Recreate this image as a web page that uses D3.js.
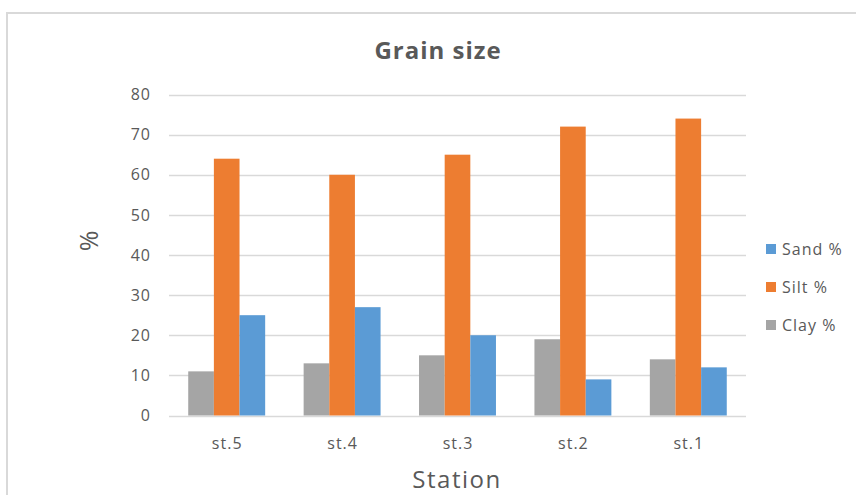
<!DOCTYPE html>
<html>
<head>
<meta charset="utf-8">
<script src="https://cdn.jsdelivr.net/npm/d3@7"></script>
<style>
  html, body { margin: 0; padding: 0; background: #fff; }
  svg { display: block; font-family: "Open Sans", "Noto Sans", sans-serif; }
</style>
</head>
<body>
<svg id="chart" width="856" height="495"></svg>
<script>
const stations = ["st.5", "st.4", "st.3", "st.2", "st.1"];
const seriesNames = ["Clay %", "Silt %", "Sand %"];
const clay = [11, 13, 15, 19, 14];
const silt = [64, 60, 65, 72, 74];
const sand = [25, 27, 20, 9, 12];
const yTicks = [0, 10, 20, 30, 40, 50, 60, 70, 80];
const legendOrder = ["Sand %", "Silt %", "Clay %"];
const colors = { "Clay %": "#A5A5A5", "Silt %": "#ED7D31", "Sand %": "#5B9BD5" };

const seriesValues = { "Clay %": clay, "Silt %": silt, "Sand %": sand };
const svg = d3.select("#chart");
const textColor = "#595959";

// Outer frame
svg.append("rect").attr("x", 7).attr("y", 13).attr("width", 900).attr("height", 600)
  .attr("fill", "none").attr("stroke", "#d9d9d9").attr("stroke-width", 2);

const plot = { left: 169, right: 746, top: 94.5, bottom: 415.5 };

const x0 = d3.scaleBand().domain(stations).range([plot.left, plot.right]).paddingInner(1/3).paddingOuter(1/6);
const x1 = d3.scaleBand().domain(seriesNames).range([0, x0.bandwidth()]);
const y = d3.scaleLinear().domain([0, 80]).range([plot.bottom, plot.top]);

// Gridlines
svg.append("g").selectAll("line").data(yTicks).join("line")
  .attr("x1", plot.left).attr("x2", plot.right)
  .attr("y1", d => Math.round(y(d)) + 0.5).attr("y2", d => Math.round(y(d)) + 0.5)
  .attr("stroke", "#d9d9d9").attr("stroke-width", 1.3);

// Y axis labels
const yAxis = d3.axisLeft(y).tickValues(yTicks).tickSize(0).tickPadding(0);
const yg = svg.append("g").attr("transform", `translate(151,0)`).call(yAxis);
yg.select(".domain").remove();
yg.selectAll("text").attr("fill", textColor).attr("font-size", 16).attr("letter-spacing", 1)
  .attr("font-family", '"Open Sans", sans-serif');

// Bars
const groups = svg.append("g").selectAll("g").data(stations).join("g")
  .attr("transform", d => `translate(${x0(d)},0)`);
groups.selectAll("rect").data((d, i) => seriesNames.map(s => ({ s, v: seriesValues[s][i] })))
  .join("rect")
  .attr("x", d => x1(d.s))
  .attr("width", x1.bandwidth())
  .attr("y", d => y(d.v))
  .attr("height", d => y(0) - y(d.v))
  .attr("fill", d => colors[d.s]);

// X axis labels
const xAxis = d3.axisBottom(x0).tickSize(0).tickPadding(0);
const xg = svg.append("g").attr("transform", `translate(0.5,${plot.bottom + 22})`).call(xAxis);
xg.select(".domain").remove();
xg.selectAll("text").attr("fill", textColor).attr("font-size", 16).attr("letter-spacing", 1)
  .attr("font-family", '"Open Sans", sans-serif');

// Title
svg.append("text").attr("x", 438).attr("y", 59).attr("text-anchor", "middle")
  .attr("font-size", 24).attr("letter-spacing", 1).attr("font-weight", "bold").attr("fill", textColor).text("Grain size");

// Axis titles
svg.append("text").attr("x", 457).attr("y", 488).attr("text-anchor", "middle")
  .attr("font-size", 24).attr("letter-spacing", 1.5).attr("fill", textColor).text("Station");
svg.append("text").attr("transform", "translate(98,241) rotate(-90)").attr("text-anchor", "middle")
  .attr("font-size", 25).attr("fill", textColor).text("%");

// Legend
const legendY = d3.scalePoint().domain(legendOrder).range([249, 325]);
const lg = svg.append("g").selectAll("g").data(legendOrder).join("g")
  .attr("transform", d => `translate(766,${legendY(d)})`);
lg.append("rect").attr("x", 0).attr("y", -5).attr("width", 10).attr("height", 10)
  .attr("fill", d => colors[d]);
lg.append("text").attr("x", 16).attr("y", 0).attr("dy", "0.35em")
  .attr("font-size", 16).attr("letter-spacing", 1).attr("fill", textColor).text(d => d);
</script>
</body>
</html>
